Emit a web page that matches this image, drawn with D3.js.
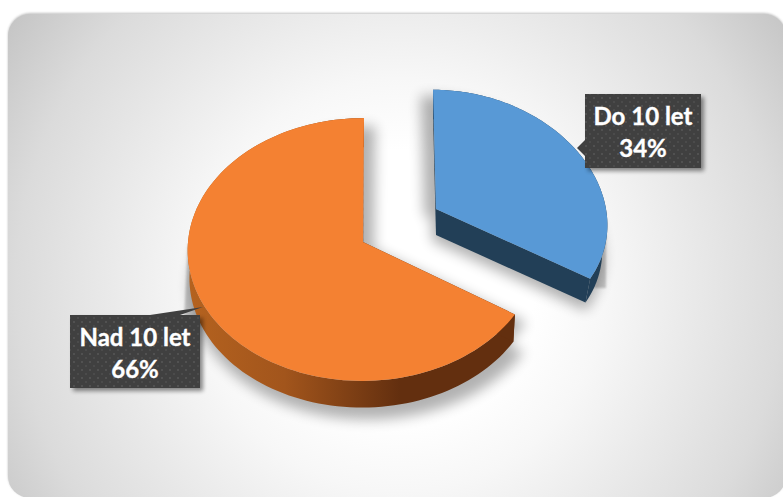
<!DOCTYPE html>
<html>
<head>
<meta charset="utf-8">
<script src="https://cdn.jsdelivr.net/npm/d3@7/dist/d3.min.js"></script>
<style>
html,body{margin:0;padding:0;background:#fff;overflow:hidden}
svg{display:block}
text{font-family:Lato,"Open Sans",sans-serif;font-weight:700;fill:#fff;stroke:#fff;stroke-width:0.35;text-anchor:middle}
</style>
</head>
<body>
<svg id="chart" width="783" height="497"></svg>
<script>
const categories = ["Do 10 let", "Nad 10 let"];
const shares = [34, 66];

// Oblique view of each exploded slice: apex, radii, foreshortening and extrusion.
const views = [
  {cx:436, cy:209, rx:170, ry:126, kx:0.11, ky:0.057, shear:-3, depth:26, shrink:0.97,
   top:"#5899d6", side:"#223f57", faceDx:-12, faceDy:6, rimDx:-4, rimDy:6, shadowScale:1.03,
   wedgeFrom:90, wedgeTo:115, wedgeDx:12},
  {cx:363, cy:242, rx:175, ry:131, kx:0.057, ky:0.057, shear:1, depth:28, shrink:0.99,
   top:"#f48132", side:"url(#orangeSide)", faceDx:11, faceDy:8, rimDx:6, rimDy:8, shadowScale:1.03,
   wedgeFrom:270, wedgeTo:245, wedgeDx:-18}
];
const callouts = [
  {x:585, y:94, w:116, h:74, pointer:[[585,140],[577,148],[585,156]]},
  {x:70, y:315, w:130, h:73, pointer:[[150,315],[203,307],[180,315]]}
];

const svg = d3.select("#chart");
const defs = svg.append("defs");

const bg = defs.append("radialGradient").attr("id","panel").attr("gradientUnits","userSpaceOnUse")
  .attr("cx",400).attr("cy",285).attr("r",480);
[[0,"#ffffff"],[0.28,"#ffffff"],[0.43,"#f7f7f7"],[0.6,"#eaeaea"],[0.8,"#dbdbdb"],[1,"#c3c3c3"]].forEach(([o,c]) =>
  bg.append("stop").attr("offset",o).attr("stop-color",c));

const sideGrad = defs.append("linearGradient").attr("id","orangeSide").attr("gradientUnits","userSpaceOnUse")
  .attr("x1",190).attr("x2",400).attr("y1",0).attr("y2",0);
[[0,"#b4621f"],[0.45,"#a2551c"],[1,"#632f0f"]].forEach(([o,c]) =>
  sideGrad.append("stop").attr("offset",o).attr("stop-color",c));

defs.append("filter").attr("id","soft").attr("x","-30%").attr("y","-30%").attr("width","160%").attr("height","160%")
  .append("feGaussianBlur").attr("stdDeviation",6.5);
defs.append("filter").attr("id","edge").attr("x","-50%").attr("y","-20%").attr("width","200%").attr("height","140%")
  .append("feGaussianBlur").attr("stdDeviation",1.2);
defs.append("filter").attr("id","boxBlur").attr("x","-20%").attr("y","-20%").attr("width","140%").attr("height","140%")
  .append("feGaussianBlur").attr("stdDeviation",2);
defs.append("filter").attr("id","panelBlur").attr("x","-5%").attr("y","-5%").attr("width","110%").attr("height","110%")
  .append("feGaussianBlur").attr("stdDeviation",1);

const dots = defs.append("pattern").attr("id","dots").attr("patternUnits","userSpaceOnUse")
  .attr("width",8).attr("height",8);
dots.append("rect").attr("width",8).attr("height",8).attr("fill","#404040");
dots.append("circle").attr("cx",2).attr("cy",2).attr("r",1).attr("fill","#565656");
dots.append("circle").attr("cx",6).attr("cy",6).attr("r",1).attr("fill","#4e4e4e");

// Panel
svg.append("rect").attr("x",8).attr("y",13).attr("width",778).attr("height",484).attr("rx",22)
  .attr("fill","#9a9a9a").attr("opacity",0.6).attr("filter","url(#panelBlur)");
svg.append("rect").attr("x",8).attr("y",14).attr("width",778).attr("height",484).attr("rx",22)
  .attr("fill","url(#panel)");

const slices = d3.pie().sort(null).value(d => d)(shares);
const line = d3.line();
const rad = d3.scaleLinear().domain([0, 360]).range([0, 2 * Math.PI]);

function project(v, angle, radial, lower) {
  const u = Math.sin(angle) * radial, w = Math.cos(angle) * radial;
  const f = lower ? v.shrink : 1;
  return [
    v.cx + f * (v.rx * u / (1 + v.kx * w) + v.shear * w),
    v.cy - f * v.ry * w / (1 + v.ky * w) + (lower ? v.depth : 0)
  ];
}
function rim(v, s, lower) {
  return d3.range(0, 121).map(i =>
    project(v, s.startAngle + (s.endAngle - s.startAngle) * i / 120, 1, lower));
}
function face(v, s, lower) {
  return [project(v, 0, 0, lower), ...rim(v, s, lower)];
}

const order = [1, 0];

// Cast shadows: a soft halo plus the narrow hard wedge beside each slice's widest point.
order.forEach(i => {
  const v = views[i], s = slices[i];
  const cx = v.cx, cy = v.cy + 30, k = v.shadowScale;
  const lowerFace = face(v, s, true).map(([x,y]) => [cx + (x-cx)*k + v.rimDx, cy + (y-cy)*k + v.rimDy]);
  const upper = face(v, s, false).map(([x,y]) => [x + v.faceDx, y + v.faceDy]);
  const halo = svg.append("g").attr("opacity",0.3).attr("filter","url(#soft)");
  [upper, lowerFace].forEach(poly =>
    halo.append("path").attr("d", line(poly) + "Z").attr("fill","#000"));
  const p0 = project(v, rad(v.wedgeFrom), 1, false);
  const p1 = project(v, rad(v.wedgeTo), 1, true);
  svg.append("path").attr("d", line([p0, [p1[0] + v.wedgeDx, p1[1]], p1]) + "Z")
    .attr("fill","#000").attr("opacity",0.2).attr("filter","url(#edge)");
});

order.forEach(i => {
  const v = views[i], s = slices[i];
  const g = svg.append("g");
  // Extruded walls: outer rim and both cut faces.
  const top = rim(v, s, false), low = rim(v, s, true);
  g.append("path").attr("d", line([...top, ...low.slice().reverse()]) + "Z").attr("fill", v.side);
  const a0 = project(v,0,0,false), b0 = project(v,0,0,true);
  [[top[0],low[0]],[top[120],low[120]]].forEach(([t,l]) =>
    g.append("path").attr("d", line([a0,t,l,b0]) + "Z").attr("fill", i === 0 ? v.side : "#632f0f"));
  g.append("path").attr("d", line(face(v, s, false)) + "Z").attr("fill", v.top);
});

// Data callouts
callouts.forEach((c, i) => {
  const outline = line([[c.x,c.y],[c.x+c.w,c.y],[c.x+c.w,c.y+c.h],[c.x,c.y+c.h]]) + "Z";
  svg.append("path").attr("d", outline).attr("transform","translate(3,3)")
    .attr("fill","#000").attr("opacity",0.45).attr("filter","url(#boxBlur)");
  svg.append("path").attr("d", line(c.pointer) + "Z").attr("fill","#404040");
  svg.append("path").attr("d", outline).attr("fill","url(#dots)");
  const mx = c.x + c.w/2;
  svg.append("text").attr("x",mx).attr("y",c.y+31).attr("font-size",24).text(categories[i]);
  svg.append("text").attr("x",mx).attr("y",c.y+63).attr("font-size",24).text(shares[i] + "%");
});
</script>
</body>
</html>
